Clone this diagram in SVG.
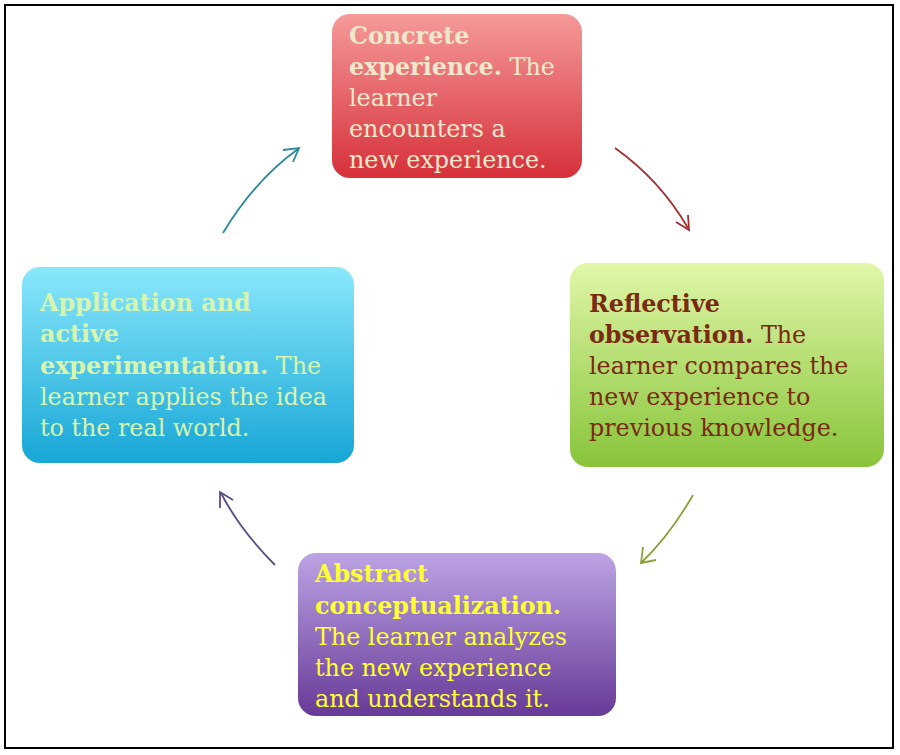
<svg xmlns="http://www.w3.org/2000/svg" width="900" height="755" viewBox="0 0 900 755">
<defs>
<linearGradient id="gr" x1="0" y1="0" x2="0" y2="1"><stop offset="0" stop-color="#f59a9a"/><stop offset="1" stop-color="#d6303a"/></linearGradient>
<linearGradient id="gg" x1="0" y1="0" x2="0" y2="1"><stop offset="0" stop-color="#e0f7a8"/><stop offset="1" stop-color="#88c43a"/></linearGradient>
<linearGradient id="gp" x1="0" y1="0" x2="0" y2="1"><stop offset="0" stop-color="#bca4e4"/><stop offset="1" stop-color="#673a98"/></linearGradient>
<linearGradient id="gc" x1="0" y1="0" x2="0" y2="1"><stop offset="0" stop-color="#8ae8fb"/><stop offset="1" stop-color="#17a6d6"/></linearGradient>
<style>
text{font-family:"DejaVu Serif","Liberation Serif",serif;font-size:23.8px}
.b{font-weight:bold}
.c{fill:none;stroke-width:1.8}
</style>
</defs>
<rect x="0" y="0" width="900" height="755" fill="#fff"/>
<rect x="5" y="5" width="888" height="743" fill="none" stroke="#000" stroke-width="2"/>
<g id="connectors">
<path class="c" stroke="#a03030" d="M615,148 Q660,180 688,228"/><path class="c" stroke="#a03030" d="M676,222 L689,230 L688,215"/>
<path class="c" stroke="#8aa03a" d="M693,495 Q670,535 642,562"/><path class="c" stroke="#8aa03a" d="M643,547 L641,563 L656,560"/>
<path class="c" stroke="#5a4a80" d="M275,565 Q240,530 221,493"/><path class="c" stroke="#5a4a80" d="M220,508 L220,492 L233,500"/>
<path class="c" stroke="#2a8a9a" d="M223,233 Q255,180 298,149"/><path class="c" stroke="#2a8a9a" d="M283,150 L299,148 L293,162"/>
</g>
<g id="concrete">
<rect x="332" y="14" width="250" height="164" rx="18" fill="url(#gr)"/>
<g fill="#f0e8cc"><text x="349" y="44" class="b">Concrete</text><text x="349" y="75"><tspan class="b">experience.</tspan> The</text><text x="349" y="106">learner</text><text x="349" y="137">encounters a</text><text x="349" y="168">new experience.</text></g>
</g>
<g id="reflective">
<rect x="570" y="263" width="314" height="204" rx="18" fill="url(#gg)"/>
<g fill="#7a2a10"><text x="589" y="312" class="b">Reflective</text><text x="589" y="343"><tspan class="b">observation.</tspan> The</text><text x="589" y="374">learner compares the</text><text x="589" y="405">new experience to</text><text x="589" y="436">previous knowledge.</text></g>
</g>
<g id="abstract">
<rect x="298" y="553" width="318" height="163" rx="18" fill="url(#gp)"/>
<g fill="#ffff33"><text x="315" y="582" class="b">Abstract</text><text x="315" y="614" class="b">conceptualization.</text><text x="315" y="645">The learner analyzes</text><text x="315" y="676">the new experience</text><text x="315" y="707">and understands it.</text></g>
</g>
<g id="application">
<rect x="22" y="267" width="332" height="196" rx="18" fill="url(#gc)"/>
<g fill="#d8f5b0"><text x="40" y="311" class="b">Application and</text><text x="40" y="342" class="b">active</text><text x="40" y="374"><tspan class="b">experimentation.</tspan> The</text><text x="40" y="405">learner applies the idea</text><text x="40" y="436">to the real world.</text></g>
</g>
</svg>
